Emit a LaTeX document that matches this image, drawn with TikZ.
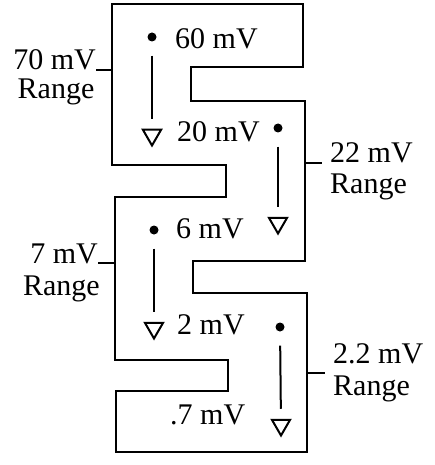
\documentclass[tikz,border=0pt]{standalone}
\usepackage{fontspec}
\setmainfont{Liberation Serif}
\usepackage{tikz}
\usetikzlibrary{shapes.geometric}

\begin{document}
\begin{tikzpicture}[
    x=1pt, y=-1pt,
    font=\fontsize{30}{34}\selectfont,
    wall/.style={line width=2.6pt, line join=miter},
    dot/.style={circle, fill=black, inner sep=0pt, minimum size=9pt},
    endmark/.style={draw, regular polygon, regular polygon sides=3, shape border rotate=180, inner sep=0pt, minimum size=21pt, line width=2pt},
    val/.style={inner sep=0pt, anchor=west},
    rng/.style={inner sep=0pt},
    sweep/.style={line width=2pt, shorten <=14pt, shorten >=10pt},
    lead/.style={line width=1.7pt}
]
\useasboundingbox (0,0) rectangle (435,465);

% ── Outline ──
\draw[wall] (112,4) -- (303,4) -- (303,67) -- (191,67) -- (191,101) -- (305,101)
    -- (305,261) -- (193,261) -- (193,293) -- (307,293) -- (307,452) -- (116,452)
    -- (116,391) -- (228,391) -- (228,360) -- (115,360) -- (115,197) -- (226,197)
    -- (226,165) -- (112,165) -- cycle;

% ── Start / End Marks ──
\node[dot] (d1) at (152,37) {};
\node[endmark] (t1) at (152,135) {};
\node[dot] (d2) at (278,128) {};
\node[endmark] (t2) at (278,223) {};
\node[dot] (d3) at (154,230) {};
\node[endmark] (t3) at (154,328) {};
\node[dot] (d4) at (280,327) {};
\node[endmark] (t4) at (281,425) {};

% ── Values ──
\node[val] (v60) at (175,39) {60 mV};
\node[val] (v20) at (177,132) {20 mV};
\node[val] (v6) at (176,229) {6 mV};
\node[val] (v2) at (177,325) {2 mV};
\node[val] (v07) at (170,415) {.7 mV};

% ── Range Labels ──
\node[rng, anchor=base east] (l70) at (96,70) {70 mV};
\node[rng, anchor=base] (r70) at (56,99) {Range};
\node[rng, anchor=base west] (l22) at (330,163) {22 mV};
\node[rng, anchor=base west] (r22) at (330,193) {Range};
\node[rng, anchor=base east] (l7) at (98,263) {7 mV};
\node[rng, anchor=base east] (r7) at (100,295) {Range};
\node[rng, anchor=base west] (l22b) at (333,363) {2.2 mV};
\node[rng, anchor=base west] (r22b) at (333,395) {Range};

\coordinate (c70) at (112,70);
\coordinate (c22) at (305,163);
\coordinate (c7) at (115,263);
\coordinate (c22b) at (307,373);

% ── Sweeps ──
\draw[sweep] (d1) -- (t1);
\draw[sweep] (d2) -- (t2);
\draw[sweep] (d3) -- (t3);
\draw[sweep] (d4) -- (t4);

% ── Leaders ──
\draw[lead] (l70.base east) -- (c70);
\draw[lead, shorten >=8pt] (c22) -- (l22.base west);
\draw[lead] (l7.base east) -- (c7);
\draw[lead, shorten >=8pt] (c22b) -- (c22b -| l22b.west);
\end{tikzpicture}
\end{document}
